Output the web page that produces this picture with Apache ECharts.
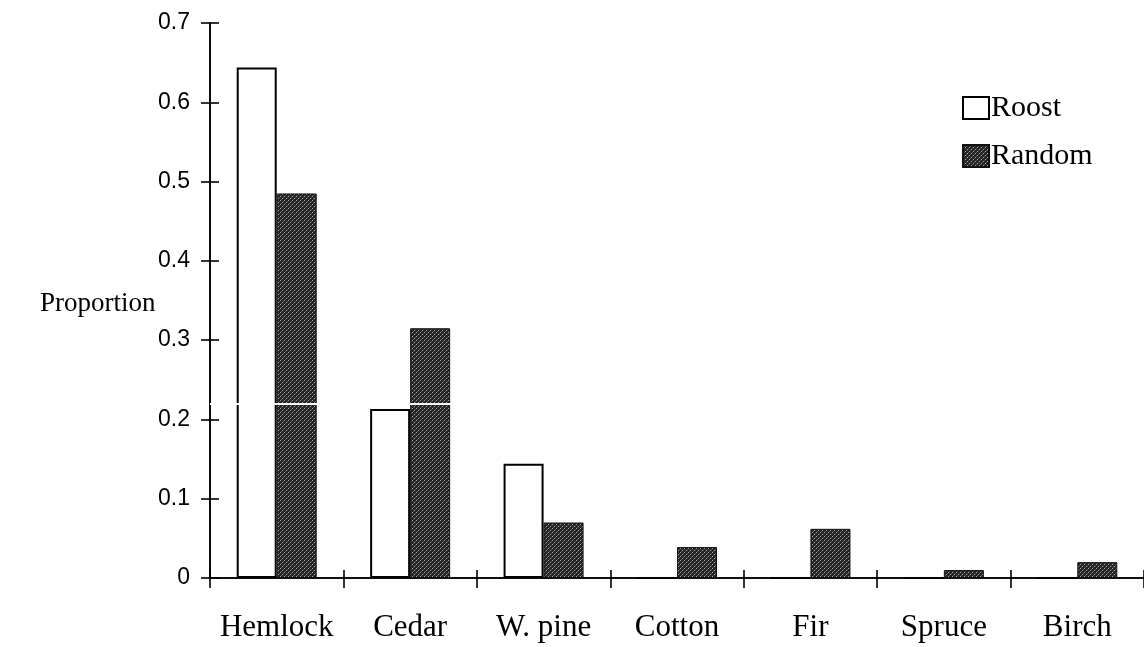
<!DOCTYPE html>
<html>
<head>
<meta charset="utf-8">
<script src="https://cdn.jsdelivr.net/npm/echarts@6/dist/echarts.min.js"></script>
<style>
html,body{margin:0;padding:0;background:#fff;}
#chart{width:1144px;height:647px;}
</style>
</head>
<body>
<div id="chart"></div>
<script>
const categories = ['Hemlock', 'Cedar', 'W. pine', 'Cotton', 'Fir', 'Spruce', 'Birch'];
const roostValues = [0.644, 0.213, 0.144, 0, 0, 0, 0];
const randomValues = [0.485, 0.315, 0.070, 0.039, 0.062, 0.010, 0.020];
const yTicks = [0, 0.1, 0.2, 0.3, 0.4, 0.5, 0.6, 0.7];
const scanGapLevel = 0.221; // white scan streak across the figure

function makePattern() {
  const c = document.createElement('canvas');
  c.width = 4; c.height = 4;
  const ctx = c.getContext('2d');
  ctx.fillStyle = '#242424';
  ctx.fillRect(0, 0, 4, 4);
  ctx.fillStyle = '#a8a8a8';
  ctx.fillRect(0, 0, 1, 1);
  ctx.fillRect(2, 2, 1, 1);
  ctx.fillStyle = '#555';
  ctx.fillRect(1, 3, 1, 1);
  ctx.fillRect(3, 1, 1, 1);
  return c;
}
const pattern = { image: makePattern(), repeat: 'repeat' };

const chart = echarts.init(document.getElementById('chart'), null, { renderer: 'canvas' });
const serif = 'Liberation Serif';
const gridBox = { left: 210, right: -14, top: 23, bottom: 69, containLabel: false };
const tickStyle = { color: '#000', width: 1.6 };
const lineStyle = { color: '#000', width: 1.6 };
chart.setOption({
  animation: false,
  backgroundColor: '#fff',
  grid: [Object.assign({}, gridBox), Object.assign({}, gridBox)],
  legend: {
    orient: 'vertical', left: 957, top: 88, itemWidth: 26, itemHeight: 22, itemGap: 18,
    icon: 'rect',
    textStyle: { fontFamily: serif, fontSize: 30, color: '#000', padding: [0, 0, 0, -3] },
    data: ['Roost', 'Random']
  },
  xAxis: [{
    type: 'category', data: categories, gridIndex: 0,
    axisLine: { lineStyle: lineStyle },
    axisTick: { show: true, length: 10, interval: 0, lineStyle: tickStyle },
    axisLabel: { fontFamily: serif, fontSize: 31, color: '#000', margin: 34, interval: 0 }
  }, {
    type: 'category', data: categories, gridIndex: 1, position: 'bottom',
    axisLine: { show: true, lineStyle: lineStyle },
    axisTick: { show: true, inside: true, length: 8, interval: 0, lineStyle: tickStyle },
    axisLabel: { show: false }
  }],
  yAxis: [{
    type: 'value', min: 0, max: 0.7, interval: 0.1, gridIndex: 0,
    splitLine: { show: false },
    axisLine: { show: true, lineStyle: lineStyle },
    axisTick: { show: true, length: 9, lineStyle: tickStyle },
    axisLabel: {
      fontFamily: 'Liberation Sans', fontSize: 23, color: '#000', margin: 20,
      formatter: function (v) {
        const t = yTicks.find(function (k) { return Math.abs(k - v) < 1e-9; });
        return t === 0 ? '0' : String(t);
      }
    }
  }, {
    type: 'value', min: 0, max: 0.7, interval: 0.1, gridIndex: 1, position: 'left',
    splitLine: { show: false },
    axisLine: { show: true, lineStyle: lineStyle },
    axisTick: { show: true, inside: true, length: 9, lineStyle: tickStyle },
    axisLabel: { show: false }
  }],
  graphic: [{
    type: 'text', left: 40, top: 290,
    style: { text: 'Proportion', fontFamily: serif, fontSize: 27, fill: '#000' }
  }],
  series: [{
    name: 'Roost', type: 'bar', data: roostValues, barWidth: 40, barGap: '0%',
    itemStyle: { color: '#fff', borderColor: '#000', borderWidth: 2 }
  }, {
    name: 'Random', type: 'bar', data: randomValues, barWidth: 40, barGap: '0%',
    itemStyle: { color: pattern, borderColor: '#111', borderWidth: 1 },
    markLine: {
      silent: true, symbol: 'none', label: { show: false }, z: 10,
      lineStyle: { color: '#fff', width: 2, type: 'solid' },
      data: [{ yAxis: scanGapLevel }]
    }
  }]
});
</script>
</body>
</html>
